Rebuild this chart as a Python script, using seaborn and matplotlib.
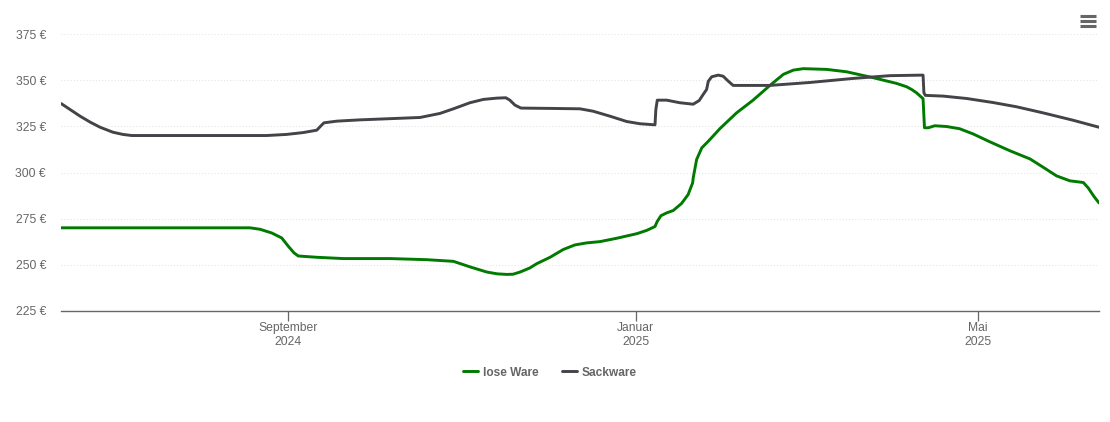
"""
Price history of loose and bagged goods, Jun 2024 - Jun 2025.
"""

import pandas as pd
import seaborn as sns
import matplotlib.pyplot as plt
from matplotlib.lines import Line2D

# Days since the start of the range
lose_days = [0, 66.3, 69.8, 73.9, 77.4, 79.7, 81.7, 83.2, 89.7, 99, 115.4, 128.2, 137.6,
             143.4, 149.3, 153, 156.3, 158.5, 161, 164.4, 166.8, 171.5, 176.1, 180.2, 184.3,
             189, 194.8, 201.9, 205.4, 208.3, 209.1, 210.4, 212.4, 214.7, 217.6, 219.9,
             221.5, 221.7, 222.9, 224.7, 227, 231.1, 236.9, 242.7, 248.6, 253.3, 256.8,
             260.3, 268.5, 275.5, 284.8, 293, 296.5, 298.3, 300, 302.3, 302.8, 304.1,
             306.4, 310.5, 315.1, 319.8, 325.7, 332.8, 339.8, 344.4, 349.1, 353.8, 358.5,
             360.2, 362.2, 364]
lose_price = [270, 270, 269.2, 267.2, 264.5, 260, 256.4, 254.7, 254, 253.3, 253.3, 252.7, 251.8,
              248.8, 246, 245, 244.7, 244.8, 246, 248.2, 250.5, 254, 258.2, 260.7, 261.8,
              262.5, 264.3, 266.8, 268.6, 270.7, 273.5, 276.6, 278.1, 279.4, 283.2, 288,
              294.4, 297.1, 307.1, 313.4, 317, 323.9, 332.4, 339.3, 347.3, 353.3, 355.6,
              356.4, 356, 354.7, 351.5, 348.4, 346.6, 345.1, 343.3, 340.1, 324.3, 324.3,
              325.4, 325, 323.8, 321, 316.7, 311.8, 307.4, 302.9, 298.2, 295.5, 294.6,
              291.7, 287.1, 283.5]

sack_days = [0, 6.7, 10.2, 13.7, 18.2, 21.7, 24.8, 72.1, 79.1, 84.9, 89.7, 90.8, 92.2, 96.7,
             104.8, 125.9, 132.9, 137.6, 143.4, 148.1, 152.8, 156, 157.4, 159.2, 161.3,
             172.6, 182, 186.6, 192.5, 198.4, 203, 208.3, 208.6, 209.1, 212.4, 217, 221.7,
             223.8, 225.2, 226.4, 227, 228.2, 230.5, 232.2, 234, 235.7, 248.6, 262.6, 277.8,
             290.7, 302.3, 302.6, 303.1, 309.4, 317.6, 326.9, 335.1, 344.4, 354.9, 364]
sack_price = [337.5, 330.6, 327.4, 324.6, 321.9, 320.7, 320.1, 320.1, 320.7, 321.7, 323, 324.8, 327, 327.9,
              328.6, 329.9, 332.1, 334.6, 337.9, 339.7, 340.4, 340.6, 339.3, 336.6, 335,
              334.8, 334.6, 333.3, 330.6, 327.7, 326.5, 325.9, 334.2, 339.3, 339.3, 337.9, 337.1,
              339.1, 342.4, 345.1, 349.6, 352, 352.9, 352.3, 349.6, 347.3, 347.3, 348.9, 351.1,
              352.6, 352.9, 343.3, 341.9, 341.5, 340.2, 338, 335.7, 332.4, 328.4, 324.6]

series_names = ["lose Ware", "Sackware"]
series_colors = ["#007a00", "#434348"]

start_date = pd.Timestamp("2024-06-13 10:00")
end_date = start_date + pd.Timedelta(days=364)
tick_dates = [pd.Timestamp("2024-09-01"), pd.Timestamp("2025-01-01"), pd.Timestamp("2025-05-01")]
tick_labels = ["September\n2024", "Januar\n2025", "Mai\n2025"]
y_ticks = [225, 250, 275, 300, 325, 350, 375]

sns.set_theme(style="white")
plt.rcParams["font.family"] = ["Liberation Sans", "DejaVu Sans"]

W, H = 1110, 422
fig = plt.figure(figsize=(W / 100, H / 100), dpi=100)
ax = fig.add_axes([61 / W, 1 - 310.7 / H, 1038 / W, 276.3 / H])

df = pd.concat([
    pd.DataFrame({"date": start_date + pd.to_timedelta(lose_days, unit="D"),
                  "price": lose_price, "series": series_names[0]}),
    pd.DataFrame({"date": start_date + pd.to_timedelta(sack_days, unit="D"),
                  "price": sack_price, "series": series_names[1]}),
])

sns.lineplot(
    data=df, x="date", y="price", hue="series", hue_order=series_names,
    palette=series_colors, estimator=None, sort=False, linewidth=2.1, ax=ax,
    legend=False, zorder=3,
)
for line in ax.get_lines():
    line.set_solid_joinstyle("round")

ax.set_xlim(start_date, end_date)
ax.set_ylim(225, 375)
ax.set_xlabel("")
ax.set_ylabel("")

ax.set_yticks(y_ticks)
ax.set_yticklabels([f"{v} €" for v in y_ticks])
ax.tick_params(axis="y", length=0, pad=10.8, labelsize=8.7, labelcolor="#666666")
ax.yaxis.grid(True, color="#e4e4e4", linestyle=(0, (1, 2)), linewidth=0.75)
ax.set_axisbelow(True)

ax.set_xticks(tick_dates)
ax.set_xticklabels(tick_labels, linespacing=1.32)
ax.tick_params(axis="x", length=7.2, width=0.9, color="#666666", pad=0.6,
               labelsize=8.7, labelcolor="#666666", bottom=True)

sns.despine(ax=ax, left=True, top=True, right=True)
ax.spines["bottom"].set_color("#666666")
ax.spines["bottom"].set_linewidth(1.0)

# Legend below the plot
handles = [Line2D([], [], color=c, linewidth=2.1) for c in series_colors]
leg = fig.legend(
    handles, series_names, loc="center", bbox_to_anchor=(550 / W, 1 - 372.5 / H),
    ncol=2, frameon=False, handlelength=1.25, handletextpad=0.46, columnspacing=1.9,
    prop={"size": 8.6, "weight": "bold"},
)
for txt in leg.get_texts():
    txt.set_color("#666666")

# Menu icon, top right
for y_px in [16, 21, 26]:
    fig.add_artist(Line2D([1080 / W, 1096 / W], [1 - y_px / H] * 2, color="#666666",
                          linewidth=2.2, solid_capstyle="butt"))

fig.savefig("out.png", dpi=100, facecolor="white")
